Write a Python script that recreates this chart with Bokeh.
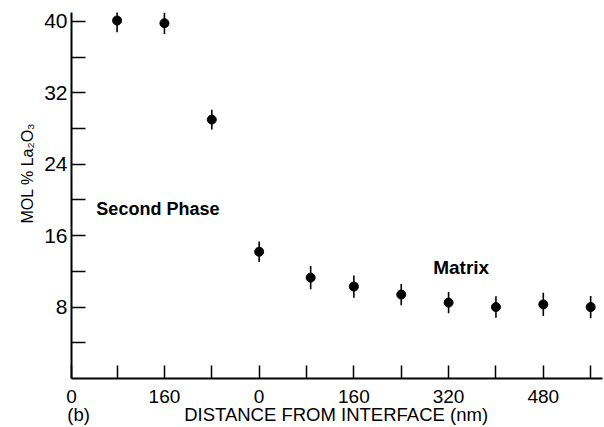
from bokeh.plotting import figure
from bokeh.models import FixedTicker, Label, Range1d, ColumnDataSource, LinearAxis
from bokeh.embed import file_html
from bokeh.resources import INLINE

# ---- data ----
distance_nm = [-240, -160, -80, 0, 87, 160, 240, 320, 400, 480, 560]
mol_pct = [40.1, 39.8, 29.0, 14.2, 11.3, 10.3, 9.4, 8.5, 8.0, 8.3, 8.0]
mol_err = [1.3, 1.2, 1.1, 1.15, 1.3, 1.25, 1.2, 1.2, 1.2, 1.3, 1.25]

x_tick_values = [-317, -240, -160, -80, 0, 80, 160, 240, 320, 400, 480, 560]
x_tick_labels = ["0", "", "160", "", "0", "", "160", "", "320", "", "480", ""]
y_tick_values = [4, 8, 12, 16, 20, 24, 28, 32, 36, 40]
y_tick_labels = ["", "8", "", "16", "", "24", "", "32", "", "40"]

x_title = "DISTANCE FROM INTERFACE (nm)"
y_title = "MOL % La\u2082O\u2083"
panel_tag = "(b)"
region_labels = ["Second Phase", "Matrix"]

FONT = "Liberation Sans"

src = ColumnDataSource(dict(
    x=distance_nm,
    y=mol_pct,
    lo=[v - e for v, e in zip(mol_pct, mol_err)],
    hi=[v + e for v, e in zip(mol_pct, mol_err)],
))

p = figure(width=603, height=427, output_backend="svg", toolbar_location=None,
           x_range=Range1d(-317, 580), y_range=Range1d(0, 41),
           min_border_left=71, min_border_right=1, min_border_top=12, min_border_bottom=49)
p.outline_line_color = None
p.xgrid.visible = False
p.ygrid.visible = False
p.background_fill_color = "white"
p.border_fill_color = "white"

p.segment(x0="x", y0="lo", x1="x", y1="hi", source=src, line_color="black", line_width=1.6)
p.scatter(x="x", y="y", source=src, size=9, fill_color="black", line_color="black")


def style_axis(ax, size):
    ax.major_tick_out = 0
    ax.minor_tick_line_color = None
    ax.axis_line_width = 2
    ax.major_tick_line_width = 1.5
    ax.axis_line_color = "black"
    ax.major_tick_line_color = "black"
    ax.major_label_text_font = FONT
    ax.major_label_text_font_size = size
    ax.major_label_text_color = "black"


# main x axis
xa = p.xaxis[0]
style_axis(xa, "19px")
xa.ticker = FixedTicker(ticks=x_tick_values)
xa.major_label_overrides = {v: l for v, l in zip(x_tick_values, x_tick_labels)}
xa.major_tick_in = 13
xa.major_label_standoff = 11

# second row below: panel tag and axis title as text
xb = LinearAxis(ticker=FixedTicker(ticks=[-305, 130]),
                major_label_overrides={-305: panel_tag, 130: x_title})
style_axis(xb, "18.5px")
xb.axis_line_color = None
xb.major_tick_line_color = None
xb.major_tick_in = 0
xb.major_label_standoff = -2
p.add_layout(xb, "below")

# main y axis
ya = p.yaxis[0]
style_axis(ya, "21px")
ya.ticker = FixedTicker(ticks=y_tick_values)
ya.major_label_overrides = {v: l for v, l in zip(y_tick_values, y_tick_labels)}
ya.major_tick_in = 14
ya.major_label_standoff = 4

# y title as a vertical label on an outer left axis
yb = LinearAxis(ticker=FixedTicker(ticks=[23]), major_label_overrides={23: y_title},
                major_label_orientation="vertical")
style_axis(yb, "16px")
yb.axis_line_color = None
yb.major_tick_line_color = None
yb.major_tick_in = 0
yb.major_label_standoff = 5
p.add_layout(yb, "left")

# region annotations inside the frame
p.add_layout(Label(x=-275, y=19.0, text=region_labels[0],
                   text_align="left", text_baseline="middle",
                   text_font=FONT, text_font_style="bold", text_font_size="18px", text_color="black"))
p.add_layout(Label(x=294, y=12.4, text=region_labels[1],
                   text_align="left", text_baseline="middle",
                   text_font=FONT, text_font_style="bold", text_font_size="19px", text_color="black"))

open("out.html", "w").write(file_html(p, INLINE))
